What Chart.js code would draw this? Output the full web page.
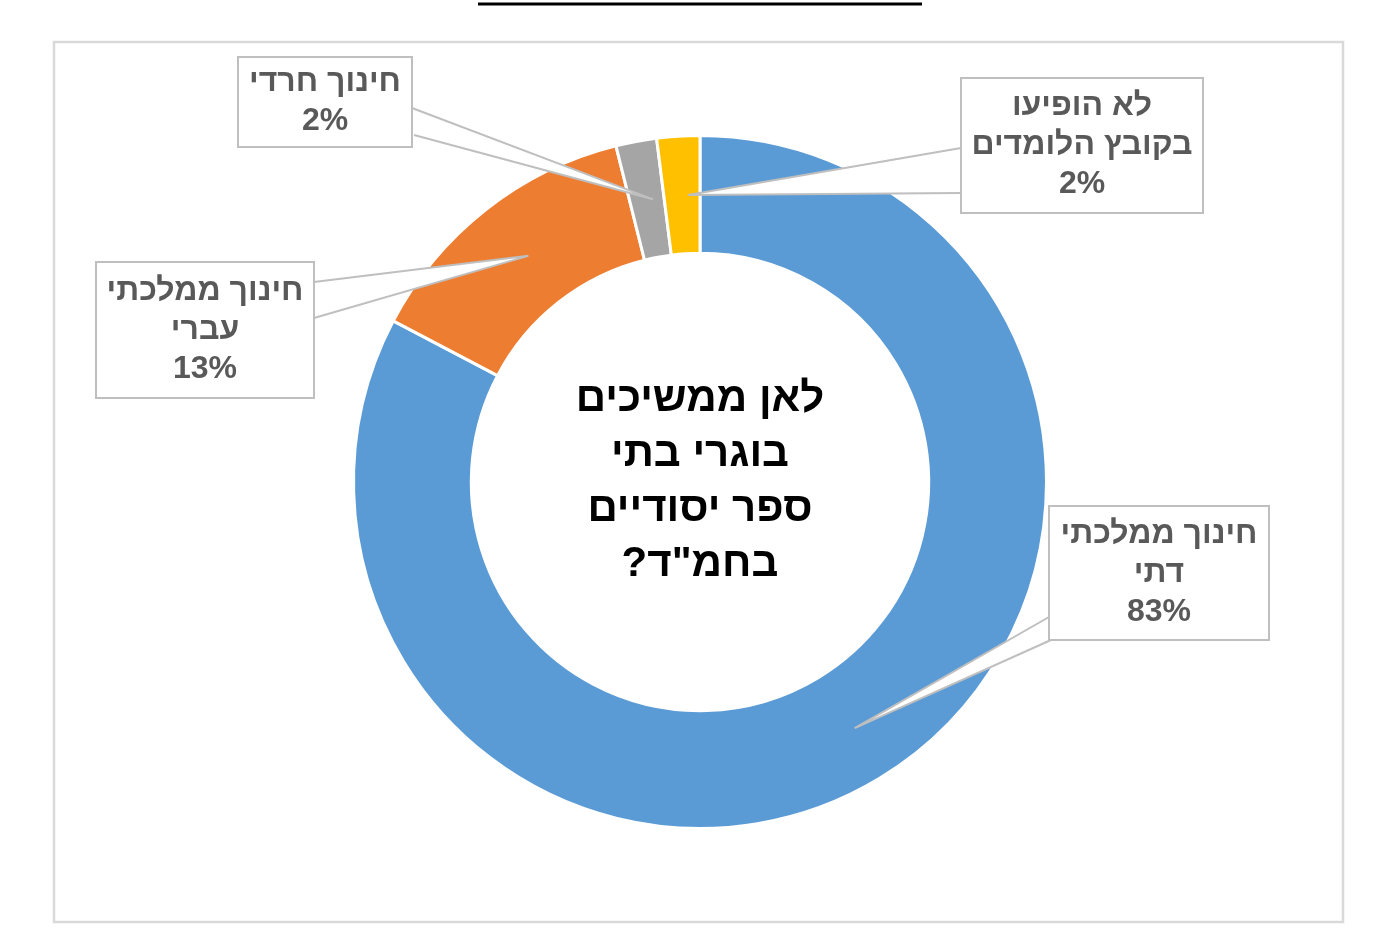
<!DOCTYPE html>
<html lang="he">
<head>
<meta charset="utf-8">
<script src="https://cdn.jsdelivr.net/npm/chart.js@4/dist/chart.umd.min.js"></script>
<style>
  html, body { margin: 0; padding: 0; background: #fff; }
  #wrap { position: relative; width: 1400px; height: 952px; }
</style>
</head>
<body>
<div id="wrap"><canvas id="graf-donut" width="1400" height="952"></canvas></div>
<script>
// נתונים
const categories = ["חינוך ממלכתי דתי", "חינוך ממלכתי עברי", "חינוך חרדי", "לא הופיעו בקובץ הלומדים"];
const labelLines = [["חינוך ממלכתי", "דתי"], ["חינוך ממלכתי", "עברי"], ["חינוך חרדי"], ["לא הופיעו", "בקובץ הלומדים"]];
const values = [82.7, 13.4, 1.9, 2.0];
const colors = ["#5B9BD5", "#ED7D31", "#A5A5A5", "#FFC000"];
const centerTitle = ["לאן ממשיכים", "בוגרי בתי", "ספר יסודיים", "בחמ\"ד?"];

// מיקום תיבות התוויות (x, y, w, h) ובסיס החץ על שפת התיבה
const boxes = [
  { x: 1049, y: 506, w: 220, h: 134, base: [[1049, 617], [1051, 640]] },
  { x: 96, y: 262, w: 218, h: 136, base: [[314, 282], [314, 318]] },
  { x: 238, y: 57, w: 174, h: 90, base: [[412, 108], [414, 135]] },
  { x: 961, y: 78, w: 242, h: 135, base: [[961, 148], [961, 193]] }
];

const total = values.reduce((a, b) => a + b, 0);

const decor = {
  id: "decor",
  beforeDraw(chart) {
    const ctx = chart.ctx;
    ctx.save();
    // קו כותרת עליון
    ctx.strokeStyle = "#000";
    ctx.lineWidth = 3;
    ctx.beginPath();
    ctx.moveTo(478, 4);
    ctx.lineTo(922, 4);
    ctx.stroke();
    // מסגרת
    ctx.strokeStyle = "#d9d9d9";
    ctx.lineWidth = 2.5;
    ctx.strokeRect(54, 42, 1289, 880);
    ctx.restore();
  },
  afterDatasetsDraw(chart) {
    const ctx = chart.ctx;
    const meta = chart.getDatasetMeta(0);
    ctx.save();
    ctx.direction = "rtl";
    ctx.textAlign = "center";
    ctx.textBaseline = "middle";

    meta.data.forEach((arc, i) => {
      const b = boxes[i];
      const tip = arc.getCenterPoint();
      // חץ
      ctx.fillStyle = "#fff";
      ctx.beginPath();
      ctx.moveTo(b.base[0][0], b.base[0][1]);
      ctx.lineTo(tip.x + 6, tip.y);
      ctx.lineTo(b.base[1][0], b.base[1][1]);
      ctx.closePath();
      ctx.fill();
      ctx.strokeStyle = "#bfbfbf";
      ctx.lineWidth = 2;
      ctx.beginPath();
      ctx.moveTo(b.base[0][0], b.base[0][1]);
      ctx.lineTo(tip.x + 6, tip.y);
      ctx.lineTo(b.base[1][0], b.base[1][1]);
      ctx.stroke();
      // תיבה
      ctx.fillStyle = "#fff";
      ctx.fillRect(b.x, b.y, b.w, b.h);
      ctx.strokeStyle = "#bfbfbf";
      ctx.strokeRect(b.x, b.y, b.w, b.h);
      // טקסט
      const lines = labelLines[i].concat([Math.round(values[i] / total * 100) + "%"]);
      const lh = 39;
      const cx = b.x + b.w / 2;
      const cy = b.y + b.h / 2;
      ctx.fillStyle = "#595959";
      ctx.font = "bold 32px Arial, 'Liberation Sans', sans-serif";
      lines.forEach((t, k) => {
        ctx.fillText(t, cx, cy + (k - (lines.length - 1) / 2) * lh);
      });
    });

    // כותרת במרכז
    const c = meta.data[0];
    ctx.fillStyle = "#000";
    ctx.font = "bold 42px Arial, 'Liberation Sans', sans-serif";
    centerTitle.forEach((t, k) => {
      ctx.fillText(t, c.x, c.y + (k - 1.5) * 55);
    });
    ctx.restore();
  }
};

document.addEventListener("DOMContentLoaded", () => {
  new Chart(document.getElementById("graf-donut"), {
    type: "doughnut",
    data: {
      labels: categories,
      datasets: [{
        data: values,
        backgroundColor: colors,
        borderColor: "#fff",
        borderWidth: 3
      }]
    },
    options: {
      responsive: false,
      animation: false,
      cutout: "66%",
      layout: { padding: { top: 134, bottom: 122, left: 0, right: 0 } },
      plugins: { legend: { display: false }, tooltip: { enabled: false } }
    },
    plugins: [decor]
  });
});
</script>
</body>
</html>
